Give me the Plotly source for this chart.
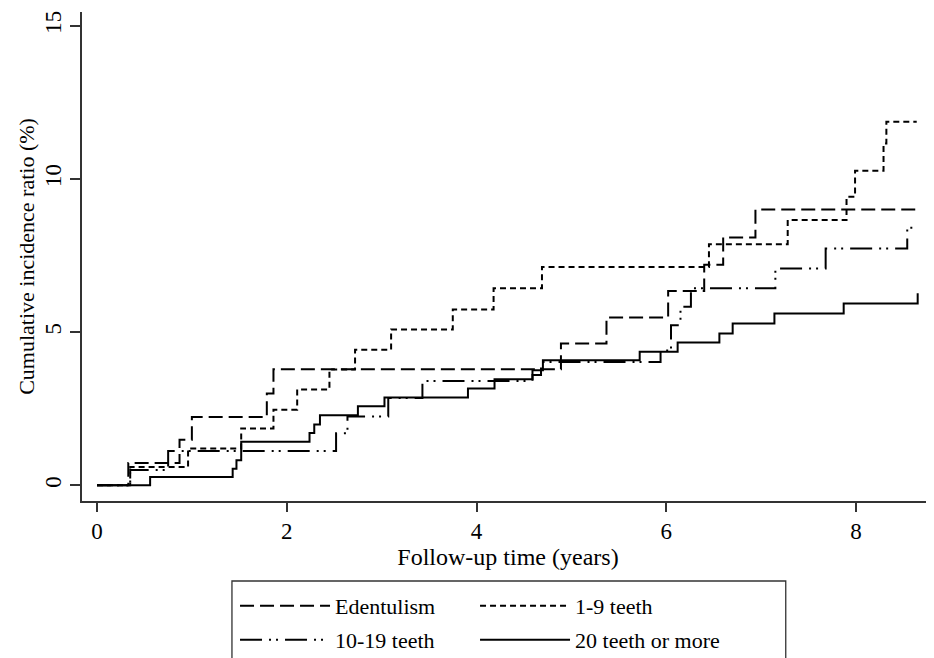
import plotly.graph_objects as go

# Follow-up time (years) at each step, and cumulative incidence ratio (%)
ed_time = [0, 0.33, 0.87, 1.00, 1.79, 1.86, 4.89, 5.37, 6.02, 6.40, 6.60, 6.94, 8.66]
ed_cir = [0, 0.73, 1.49, 2.23, 3.00, 3.79, 4.63, 5.48, 6.34, 7.20, 8.09, 9.00, 9.00]

t1_9_time = [0, 0.35, 0.96, 1.52, 1.86, 2.11, 2.45, 2.72, 3.10, 3.75, 4.18, 4.69,
             6.45, 7.28, 7.90, 7.99, 8.29, 8.32, 8.64]
t1_9_cir = [0, 0.60, 1.20, 1.86, 2.47, 3.13, 3.78, 4.43, 5.09, 5.74, 6.43, 7.13,
            7.87, 8.66, 9.42, 10.27, 11.16, 11.87, 11.87]

t10_19_time = [0, 0.35, 0.75, 2.52, 2.64, 3.07, 3.43, 4.59, 4.68, 5.94, 6.05, 6.15,
               6.26, 7.15, 7.68, 8.54, 8.66]
t10_19_cir = [0, 0.50, 1.12, 1.70, 2.25, 2.85, 3.41, 3.60, 4.03, 4.40, 5.23, 5.83,
              6.43, 7.08, 7.73, 8.41, 8.41]

t20_time = [0, 0.56, 1.43, 1.47, 1.52, 2.24, 2.29, 2.35, 2.75, 3.03, 3.91, 4.19,
            4.59, 4.70, 5.72, 6.12, 6.56, 6.70, 7.14, 7.87, 8.65]
t20_cir = [0, 0.27, 0.54, 0.82, 1.42, 1.71, 1.99, 2.29, 2.58, 2.87, 3.16, 3.46,
           3.76, 4.08, 4.36, 4.66, 4.96, 5.28, 5.61, 5.94, 6.27]

series_names = ["Edentulism", "1-9 teeth", "10-19 teeth", "20 teeth or more"]
x_ticks = [0, 2, 4, 6, 8]
y_ticks = [0, 5, 10, 15]

FONT = "Liberation Serif, Times New Roman, serif"
INK = "#000000"
AXIS = "#333333"

series = [
    (ed_time, ed_cir, "14px,6px", "legend"),
    (t1_9_time, t1_9_cir, "6px,4px", "legend2"),
    (t10_19_time, t10_19_cir, "22px,7px,2px,5px,2px,7px", "legend3"),
    (t20_time, t20_cir, "solid", "legend4"),
]

fig = go.Figure()
for (t, v, dash, lg), name in zip(series, series_names):
    fig.add_trace(go.Scatter(
        x=t, y=v, name=name, mode="lines", line_shape="hv",
        line=dict(color=INK, width=2, dash=dash), legend=lg,
    ))

legend_common = dict(
    orientation="h", xanchor="left", yanchor="middle", itemwidth=90,
    font=dict(family=FONT, size=22, color=INK),
    bgcolor="rgba(0,0,0,0)", borderwidth=0,
)
COL1, COL2 = 0.1796, 0.4613
ROW1, ROW2 = -0.2147, -0.2843

# the page adds an 8px body margin, so the figure is 8px smaller than the window
fig.update_layout(
    width=926, height=650,
    margin=dict(l=74, r=0, t=4, b=157, autoexpand=False),
    paper_bgcolor="white", plot_bgcolor="white",
    font=dict(family=FONT, size=22, color=INK),
    showlegend=True,
    legend=dict(legend_common, x=COL1, y=ROW1),
    legend2=dict(legend_common, x=COL2, y=ROW1),
    legend3=dict(legend_common, x=COL1, y=ROW2),
    legend4=dict(legend_common, x=COL2, y=ROW2),
    shapes=[dict(
        type="rect", xref="paper", yref="paper",
        x0=0.176, x1=0.826, y0=-0.1636, y1=-0.6,
        line=dict(color=AXIS, width=1.3), fillcolor="rgba(0,0,0,0)",
    )],
)

fig.update_xaxes(
    range=[-0.158, 8.822], tickvals=x_ticks, ticktext=[str(v) for v in x_ticks],
    showgrid=False, zeroline=False, showline=True, linecolor=AXIS, linewidth=1.5,
    ticks="outside", ticklen=9, tickcolor=AXIS, tickwidth=1.5,
    tickfont=dict(family=FONT, size=23, color=INK),
    title=dict(text="Follow-up time (years)", standoff=0,
               font=dict(family=FONT, size=24, color=INK)),
)
fig.update_yaxes(
    range=[-0.51, 15.45], tickvals=y_ticks, ticktext=[str(v) for v in y_ticks],
    tickangle=-90,
    showgrid=False, zeroline=False, showline=True, linecolor=AXIS, linewidth=1.5,
    ticks="outside", ticklen=10, tickcolor=AXIS, tickwidth=1.5,
    tickfont=dict(family=FONT, size=23, color=INK),
    title=dict(text="Cumulative incidence ratio (%)", standoff=0,
               font=dict(family=FONT, size=22, color=INK)),
)

fig.write_html("out.html")
